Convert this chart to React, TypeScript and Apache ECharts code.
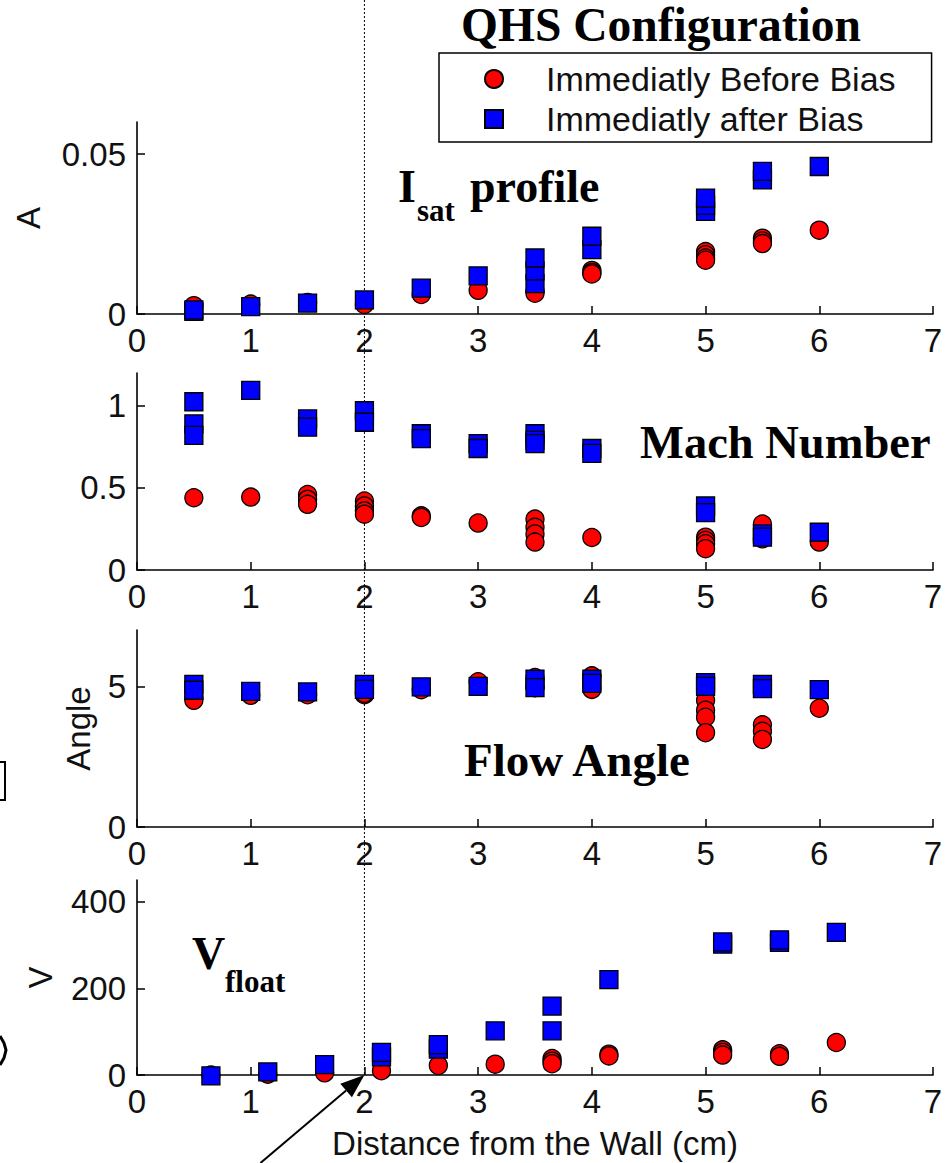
import React, { useEffect, useRef } from "react";
import * as echarts from "echarts";

const W = 948;
const H = 1163;
const SANS = "'Liberation Sans', Arial, Helvetica, sans-serif";
const SERIF = "'Liberation Serif', 'Times New Roman', Times, serif";

const BEFORE = "Immediatly Before Bias";
const AFTER = "Immediatly after Bias";

// x positions (cm from the wall)
const distX = [0.5, 1, 1.5, 2, 2.5, 3, 3.5, 4, 5, 5.5, 6];
const vfloatX = [0.65, 1.15, 1.65, 2.15, 2.65, 3.15, 3.65, 4.15, 5.15, 5.65, 6.15];

// Isat profile (A)
const isatBefore = [[0.0026], [0.0031], [0.0036], [0.003], [0.0061], [0.0074], [0.0072, 0.0065], [0.0136, 0.013, 0.0125], [0.0195, 0.0185, 0.0175, 0.0168], [0.0237, 0.0228, 0.022], [0.0262]];
const isatAfter = [[0.0008, 0.0013], [0.0023], [0.0034], [0.0044], [0.0081], [0.0119], [0.0095, 0.0135, 0.0175], [0.0201, 0.0243], [0.0321, 0.034, 0.0362], [0.0419, 0.0446], [0.0461]];

// Mach number
const machBefore = [[0.44], [0.444], [0.46, 0.43, 0.4], [0.42, 0.39, 0.36, 0.34], [0.33, 0.32], [0.286], [0.31, 0.26, 0.22, 0.17], [0.198], [0.2, 0.18, 0.16, 0.13], [0.28, 0.19], [0.17]];
const machAfter = [[1.025, 0.89, 0.82], [1.094], [0.92, 0.87], [0.97, 0.9], [0.83, 0.8], [0.77, 0.74], [0.83, 0.79, 0.77], [0.74, 0.71], [0.39, 0.35], [0.22, 0.2], [0.23]];

// Flow angle
const angleBefore = [[4.6, 4.5], [4.68], [4.7], [4.7, 4.75], [4.88], [5.16], [5.31, 4.95], [5.37, 4.89], [4.5, 4.15, 3.9, 3.35], [3.63, 3.4, 3.11], [4.22]];
const angleAfter = [[5.07, 4.86], [4.82], [4.8], [5.07, 4.89], [4.98], [5.0], [5.25, 4.95], [5.25, 5.1], [5.13, 5.0], [5.07, 4.92], [4.88]];

// Floating potential (V)
const vfloatBefore = [[0], [2], [5], [10], [22], [25], [38, 32, 26], [48, 44], [58, 52, 46], [49, 43], [75]];
const vfloatAfter = [[-2], [7], [24], [42, 52], [60, 70], [102], [102, 159], [220], [302, 307], [306, 312], [329]];

// axes
const xTicks = [0, 1, 2, 3, 4, 5, 6, 7];
const yMax = [0.06, 1.2, 7, 450];
const yTicks = [[0, 0.05], [0, 0.5, 1], [0, 5], [0, 200, 400]];
const yNames = ["A", "", "Angle", "V"];
const yNameGaps = [92, 0, 42, 80];
const xName = "Distance from the Wall (cm)";

const gridTops = [122, 373, 630, 880];
const gridHeights = [192, 197, 197, 195];

function points(xs: number[], groups: number[][]) {
  const out: number[][] = [];
  xs.forEach((x, i) => groups[i].forEach((v) => out.push([x, v])));
  return out;
}

export default function App() {
  const ref = useRef<HTMLDivElement>(null);
  useEffect(() => {
    if (!ref.current) return;
    const chart = echarts.init(ref.current, undefined, { renderer: "svg" });

    const panels = [
      { xs: distX, before: isatBefore, after: isatAfter },
      { xs: distX, before: machBefore, after: machAfter },
      { xs: distX, before: angleBefore, after: angleAfter },
      { xs: vfloatX, before: vfloatBefore, after: vfloatAfter },
    ];

    const axisLine = { show: true, onZero: false, lineStyle: { color: "#000", width: 1.6 } };
    const labelStyle = { color: "#111", fontSize: 33, fontFamily: SANS };

    const grid = gridTops.map((t, i) => ({ left: 137, width: 796, top: t, height: gridHeights[i] }));
    const xAxis = gridTops.map((_, i) => ({
      type: "value",
      gridIndex: i,
      min: 0,
      max: 7,
      interval: 1,
      axisLine,
      axisTick: { show: true, inside: true, length: 8, lineStyle: { color: "#000", width: 1.5 }, customValues: xTicks },
      axisLabel: { ...labelStyle, margin: 10, customValues: xTicks, formatter: (v: number) => String(v) },
      splitLine: { show: false },
      name: i === 3 ? xName : "",
      nameLocation: "middle",
      nameGap: 52,
      nameTextStyle: labelStyle,
    }));
    const yAxis = gridTops.map((_, i) => ({
      type: "value",
      gridIndex: i,
      min: 0,
      max: yMax[i],
      axisLine,
      axisTick: { show: true, inside: true, length: 8, lineStyle: { color: "#000", width: 1.5 }, customValues: yTicks[i] },
      axisLabel: { ...labelStyle, margin: 11, customValues: yTicks[i], formatter: (v: number) => String(v) },
      splitLine: { show: false },
      name: yNames[i],
      nameLocation: "middle",
      nameGap: yNameGaps[i],
      nameTextStyle: labelStyle,
    }));

    const series: any[] = [];
    panels.forEach((p, i) => {
      series.push({
        type: "scatter",
        name: BEFORE,
        xAxisIndex: i,
        yAxisIndex: i,
        symbol: "circle",
        symbolSize: 18,
        clip: false,
        silent: true,
        z: 2,
        itemStyle: { color: "#ff0000", borderColor: "#000", borderWidth: 1.3, opacity: 1 },
        data: points(p.xs, p.before),
      });
      series.push({
        type: "scatter",
        name: AFTER,
        xAxisIndex: i,
        yAxisIndex: i,
        symbol: "rect",
        symbolSize: 18,
        clip: false,
        silent: true,
        z: 3,
        itemStyle: { color: "#0000ff", borderColor: "#000", borderWidth: 1.3, opacity: 1 },
        data: points(p.xs, p.after),
      });
    });

    chart.setOption({
      animation: false,
      backgroundColor: "#fff",
      grid,
      xAxis,
      yAxis,
      series,
      legend: {
        orient: "vertical",
        left: 439,
        top: 53,
        padding: [9, 36, 6, 45],
        itemWidth: 18,
        itemHeight: 18,
        itemGap: 6,
        borderColor: "#000",
        borderWidth: 1.5,
        backgroundColor: "#fff",
        selectedMode: false,
        textStyle: { color: "#111", fontSize: 34, fontFamily: SANS, padding: [0, 0, 0, 38] },
        data: [BEFORE, AFTER],
      },
    });

    // annotation positions derived from the axes
    const x2 = chart.convertToPixel({ xAxisIndex: 0 }, 2) as number;
    const tip = chart.convertToPixel({ gridIndex: 3 }, [2, 0]) as number[];
    const tail = [tip[0] - 104, H];
    const dx = tip[0] - tail[0];
    const dy = tip[1] - tail[1];
    const len = Math.sqrt(dx * dx + dy * dy);
    const ux = dx / len;
    const uy = dy / len;
    const headL = 24;
    const headW = 9;
    const bx = tip[0] - ux * headL;
    const by = tip[1] - uy * headL;

    const bold = (text: string, x: number, y: number, size = 46) => ({
      type: "text",
      x,
      y,
      silent: true,
      style: { text, fill: "#000", font: `bold ${size}px ${SERIF}`, align: "left", verticalAlign: "middle" },
      z: 10,
    });

    chart.setOption({
      graphic: [
        {
          type: "line",
          silent: true,
          shape: { x1: x2, y1: 0, x2: x2, y2: tip[1] },
          style: { stroke: "#000", lineWidth: 1, lineDash: [2, 2] },
          z: 1,
        },
        {
          type: "line",
          silent: true,
          shape: { x1: tail[0], y1: tail[1], x2: bx, y2: by },
          style: { stroke: "#000", lineWidth: 2 },
          z: 10,
        },
        {
          type: "polygon",
          silent: true,
          shape: {
            points: [
              [tip[0], tip[1]],
              [bx + uy * headW, by - ux * headW],
              [bx - uy * headW, by + ux * headW],
            ],
          },
          style: { fill: "#000" },
          z: 10,
        },
        bold("QHS Configuration", 461, 25, 47.5),
        bold("I", 398, 186.5),
        bold("sat", 417, 210.5, 31),
        bold("profile", 470, 186.5),
        bold("Mach Number", 640, 442.5, 46.5),
        bold("Flow Angle", 464, 760, 47),
        bold("V", 192, 953.5),
        bold("float", 225, 981.5, 31),
        {
          type: "polyline",
          silent: true,
          shape: { points: [[0, 762], [5, 762], [5, 800], [0, 800]] },
          style: { stroke: "#000", lineWidth: 2, fill: null },
        },
        {
          type: "polyline",
          silent: true,
          shape: { points: [[0, 1036], [4, 1043], [6, 1050], [4, 1058], [0, 1065]] },
          style: { stroke: "#000", lineWidth: 3, fill: null },
        },
      ],
    });

    return () => chart.dispose();
  }, []);

  return <div ref={ref} style={{ position: "absolute", left: 0, top: 0, width: W, height: H }} />;
}
